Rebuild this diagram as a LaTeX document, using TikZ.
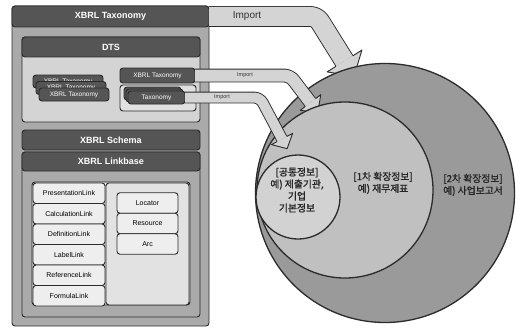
\documentclass[tikz,border=0pt]{standalone}
\usepackage{fontspec}
\setmainfont{Liberation Sans}
\newfontfamily\kr{Noto Sans CJK KR}[AutoFakeBold=1.5]
\definecolor{edge}{HTML}{2B2B2B}
\definecolor{bardark}{HTML}{555555}
\definecolor{panelgray}{HTML}{AAAAAA}
\definecolor{dtsfill}{HTML}{D4D4D4}
\definecolor{framefill}{HTML}{E0E0E0}
\definecolor{linkfill}{HTML}{EEEEEE}
\definecolor{subfill}{HTML}{E2E2E2}
\definecolor{arrowfill}{HTML}{D4D4D4}
\definecolor{bigc}{HTML}{9A9A9A}
\definecolor{midc}{HTML}{C0C0C0}
\definecolor{smallc}{HTML}{D2D2D2}
\begin{document}
\begin{tikzpicture}[x=1pt,y=-1pt,line join=round,
  box/.style={draw=edge,line width=0.9pt,rounded corners=3pt,inner sep=0pt,outer sep=0pt},
  bar/.style={box,fill=bardark,text=white,font=\fontsize{9}{10}\selectfont\bfseries},
  chip/.style={box,fill=bardark,text=white,minimum width=70,minimum height=13,font=\fontsize{6.5}{7}\selectfont},
  tchip/.style={box,fill=bardark,text=white,minimum width=57,minimum height=13,font=\fontsize{6.5}{7}\selectfont},
  linkbox/.style={box,fill=linkfill,minimum width=72,minimum height=20.5,font=\fontsize{7}{8}\selectfont},
  partbox/.style={box,fill=linkfill,minimum width=61,minimum height=20.5,font=\fontsize{7}{8}\selectfont},
  shaft/.style={draw=edge,line width=0.9pt,double=arrowfill,rounded corners=6pt},
  headfill/.style={fill=arrowfill},
  headline/.style={draw=edge,line width=0.9pt},
  ring/.style={circle,draw=edge,line width=1.3pt,inner sep=0pt},
  krtext/.style={align=center,font=\kr\bfseries\fontsize{9.8}{12}\selectfont,text=black!85}
]
\useasboundingbox (0,0) rectangle (516,329);

% ---- XBRL Taxonomy panel ----
\node[box,fill=panelgray,minimum width=197,minimum height=320] (taxpanel) at (110.5,166) {};
\node[bar,minimum width=197,minimum height=21] (taxhead) at (110.5,16.5) {XBRL Taxonomy};

% DTS block
\node[box,fill=dtsfill,minimum width=178,minimum height=85] (dtsbody) at (111,79.5) {};
\node[bar,minimum width=178,minimum height=20] (dtshead) at (111,47) {DTS};

% stacked taxonomies on the left
\node[chip] (sa) at (68,81.5) {XBRL Taxonomy};
\node[chip] (sb) at (71,88) {XBRL Taxonomy};
\node[chip] (sc) at (74,94.5) {XBRL Taxonomy};

% imported taxonomy and extension frame
\node[tchip,minimum width=75,minimum height=15] (rtax) at (157.5,75.5) {XBRL Taxonomy};
\node[box,fill=framefill,minimum width=76,minimum height=26] (tframe) at (158,98) {};
\node[tchip] (ta) at (152.5,93.5) {};
\node[tchip] (tb) at (154.5,95.5) {};
\node[tchip] (tc) at (156.5,97.5) {Taxonomy};

% schema and linkbase
\node[bar,minimum width=178,minimum height=20] (schema) at (111,140) {XBRL Schema};
\node[box,fill=panelgray,minimum width=178,minimum height=165] (lbbody) at (111,234.5) {};
\node[bar,minimum width=178,minimum height=19] (lbhead) at (111,161.5) {XBRL Linkbase};
\node[box,fill=subfill,minimum width=158,minimum height=123] (lbinner) at (111,243.5) {};
\node[box,fill=subfill,minimum width=83,minimum height=122] (lbright) at (147.5,244) {};

\node[linkbox] (pres) at (69,193.25) {PresentationLink};
\node[linkbox] (calc) at (69,213.75) {CalculationLink};
\node[linkbox] (defn) at (69,234.25) {DefinitionLink};
\node[linkbox] (labl) at (69,254.75) {LabelLink};
\node[linkbox] (refr) at (69,275.25) {ReferenceLink};
\node[linkbox] (form) at (69,295.75) {FormulaLink};

\node[partbox] (loc) at (147.5,203) {Locator};
\node[partbox] (res) at (147.5,223.5) {Resource};
\node[partbox] (arc) at (147.5,244) {Arc};

% ---- outer import arrow ----
\coordinate (bigK) at (316.7,16.5);
\coordinate (bigM) at (344.5,61);
\coordinate (bigI) at (336,66.3);
\coordinate (bigO) at (353,55.7);
\coordinate (bigL) at (327.1,71.9);
\coordinate (bigR) at (361.9,50.1);
\coordinate (bigT) at (354,76.3);
\draw[shaft,double distance=19pt] (taxhead.east) -- (bigK) -- (bigM);
\fill[headfill] (bigL) -- (bigT) -- (bigR) -- cycle;
\draw[headline] (bigI) -- (bigL) -- (bigT) -- (bigR) -- (bigO);
\node[font=\fontsize{10}{11}\selectfont,text=black!80] (bigimp) at (247,16) {Import};

% outer circle
\node[ring,fill=bigc,minimum size=259] (outer) at (385,193) {};

% ---- middle import arrow ----
\coordinate (midK) at (290,75.5);
\coordinate (midM) at (310.5,102.5);
\coordinate (midI) at (305.3,106.4);
\coordinate (midO) at (315.7,98.6);
\coordinate (midL) at (300.2,110.4);
\coordinate (midR) at (320.8,94.6);
\coordinate (midT) at (317.8,112.1);
\draw[shaft,double distance=12pt] (rtax.east) -- (midK) -- (midM);
\fill[headfill] (midL) -- (midT) -- (midR) -- cycle;
\draw[headline] (midI) -- (midL) -- (midT) -- (midR) -- (midO);
\node[font=\fontsize{5.5}{6}\selectfont,text=black!80] (midimp) at (245,75.5) {Import};

% middle circle
\node[ring,fill=midc,minimum size=176] (middle) at (345,190) {};

% ---- inner import arrow ----
\coordinate (smK) at (260,97.5);
\coordinate (smM) at (282,139);
\coordinate (smI) at (277.1,141.6);
\coordinate (smO) at (286.9,136.4);
\coordinate (smL) at (271.4,144.6);
\coordinate (smR) at (292.6,133.4);
\coordinate (smT) at (287.1,148.7);
\draw[shaft,double distance=10pt] (tc.east) -- (smK) -- (smM);
\fill[headfill] (smL) -- (smT) -- (smR) -- cycle;
\draw[headline] (smI) -- (smL) -- (smT) -- (smR) -- (smO);
\node[font=\fontsize{5.5}{6}\selectfont,text=black!80] (smimp) at (222,97.5) {Import};

% inner circle
\node[ring,fill=smallc,minimum size=84] (inner) at (298,197) {};

% ---- circle captions ----
\node[krtext] (common) at (297,190) {[공통정보]\\예) 제출기관,\\기업\\기본정보};
\node[krtext] (first) at (383,183) {[1차 확장정보]\\예) 재무제표};
\node[krtext] (second) at (473,185) {[2차 확장정보]\\예) 사업보고서};
\end{tikzpicture}
\end{document}
